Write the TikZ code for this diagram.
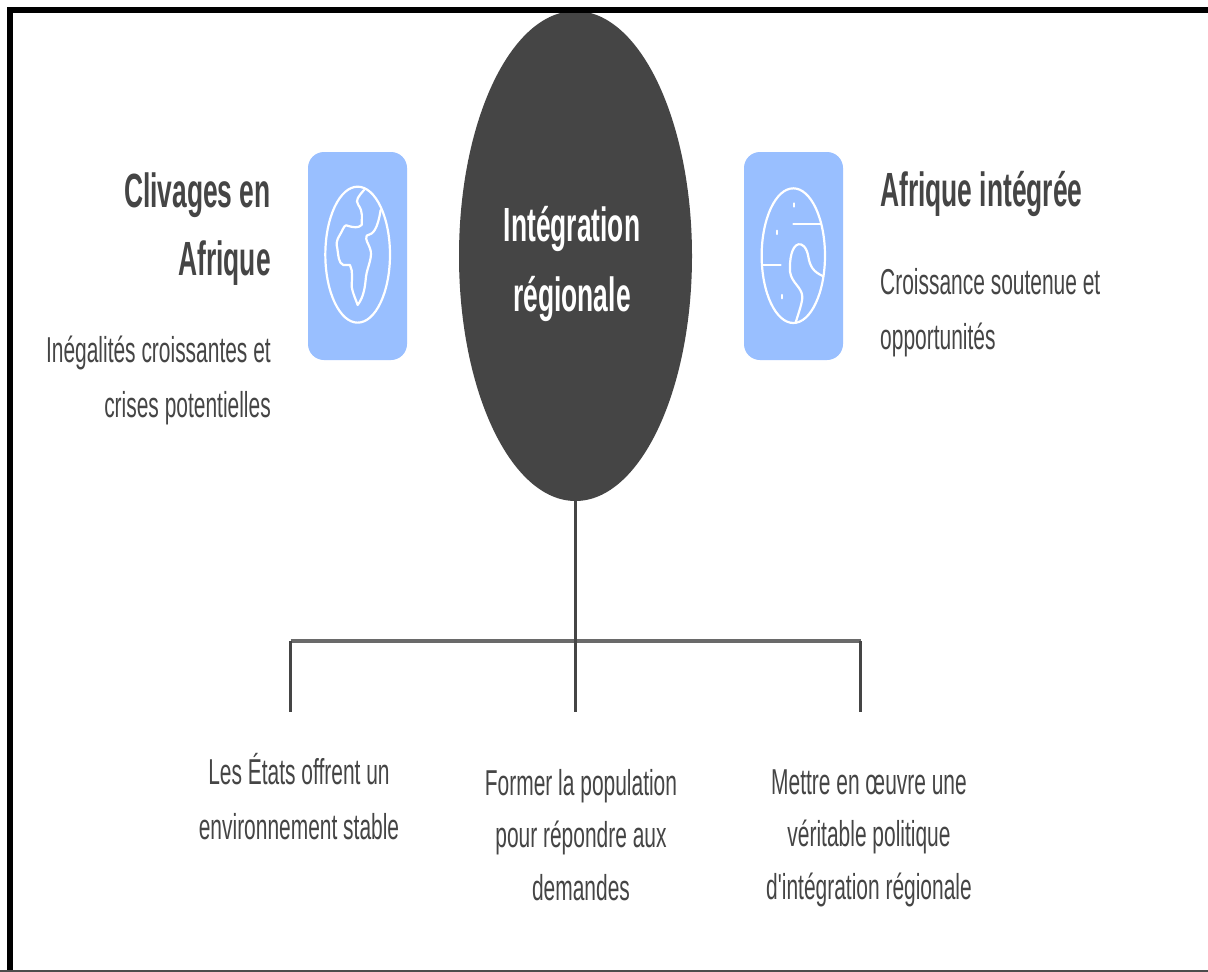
\documentclass[tikz,border=0pt]{standalone}
\usepackage{fontspec}
\usetikzlibrary{shapes.geometric}
\setmainfont{Liberation Sans}
\newfontfamily\headf[FakeStretch=0.55]{Liberation Sans}
\newfontfamily\bodyf[FakeStretch=0.582]{Liberation Sans}
\definecolor{ink}{HTML}{454545}
\definecolor{tile}{HTML}{99BFFF}
\tikzset{
  headtext/.style={inner sep=0pt,text=ink,font=\headf\bfseries\fontsize{48}{68}\selectfont},
  bodytext/.style={inner sep=0pt,text=ink,font=\bodyf\fontsize{36}{55}\selectfont},
  bodytight/.style={inner sep=0pt,text=ink,font=\bodyf\fontsize{36}{52.5}\selectfont},
  tilebox/.style={fill=tile,draw=none,rounded corners=16pt},
  globe/.style={draw=white,line width=2.2pt,line join=round,line cap=round},
  branch/.style={draw=ink,line width=2.2pt},
  bar/.style={draw=ink!80,line width=4.5pt},
}
\begin{document}
\begin{tikzpicture}[x=1pt,y=-1pt]
\useasboundingbox (0,0) rectangle (1208,972);
\fill[white] (0,0) rectangle (1208,972);
% hub
\node[ellipse,fill=ink,draw=none,minimum width=233pt,minimum height=490pt,inner sep=0pt] (hub) at (575.5,256) {};
\node[inner sep=0pt,align=center,text=white,font=\headf\bfseries\fontsize{48}{70}\selectfont] (hubt) at (572,263.5) {Intégration\\régionale};
% connectors
\coordinate (junction) at (575.5,641);
\coordinate (jl) at (290.5,641);
\coordinate (jr) at (860.5,641);
\coordinate (dl) at (290.5,712);
\coordinate (dm) at (575.5,712);
\coordinate (dr) at (860.5,712);
\draw[bar] (jl) -- (jr);
\draw[branch] (hub.south) -- (dm);
\draw[branch] (jl) -- (dl);
\draw[branch] (jr) -- (dr);
% tiles
\node[tilebox,minimum width=99pt,minimum height=208pt,inner sep=0pt] (tl) at (357.5,256) {};
\node[tilebox,minimum width=99pt,minimum height=208pt,inner sep=0pt] (tr) at (793.5,256) {};
% left globe
\begin{scope}[shift={(290,140)},x=0.3333pt,y=-0.3333pt]
\draw[globe] (203,344) ellipse [x radius=97,y radius=204];
\draw[globe] (222,150) .. controls (205,170) and (195,180) .. (205,195) .. controls (220,215) and (215,235) .. (215,255) .. controls (205,265) and (190,262) .. (175,258) .. controls (165,250) and (160,265) .. (155,275) .. controls (148,290) and (135,300) .. (142,325) .. controls (145,345) and (145,370) .. (160,375) -- (180,375) .. controls (190,395) and (185,420) .. (185,440) .. controls (188,460) and (198,480) .. (203,495) .. controls (222,470) and (225,440) .. (228,410) .. controls (232,380) and (250,350) .. (240,325) .. controls (235,310) and (225,300) .. (230,287) .. controls (250,282) and (262,270) .. (272,210);
\end{scope}
% right globe
\begin{scope}[shift={(730,140)},x=0.3333pt,y=-0.3333pt]
\draw[globe] (190,347) ellipse [x radius=95,y radius=202];
\draw[globe] (190,252) -- (272,252);
\draw[globe] (97,375) -- (152,375);
\draw[globe] (278,408) .. controls (250,395) and (240,380) .. (235,350) .. controls (230,320) and (215,310) .. (205,313) .. controls (185,318) and (178,360) .. (180,395) .. controls (185,430) and (215,440) .. (217,470) .. controls (217,490) and (205,520) .. (197,548);
\draw[globe] (193,190) -- (193,200);
\draw[globe] (140,272) -- (140,282);
\draw[globe] (156,465) -- (156,475);
\end{scope}
% texts
\node[headtext,align=right,anchor=east] (lh) at (271,229) {Clivages en\\Afrique};
\node[bodytext,align=right,anchor=east] (lb) at (271,380.5) {Inégalités croissantes et\\crises potentielles};
\node[headtext,align=left,anchor=west] (rh) at (880,194) {Afrique intégrée};
\node[bodytext,align=left,anchor=west] (rb) at (880,313) {Croissance soutenue et\\opportunités};
\node[bodytext,align=center] (t1) at (299,797) {Les États offrent un\\environnement stable};
\node[bodytight,align=center] (t2) at (581,835) {Former la population\\pour répondre aux\\demandes};
\node[bodytight,align=center] (t3) at (869,838) {Mettre en œuvre une\\véritable politique\\d'intégration régionale};
% frame
\fill[black] (7,7) rectangle (1208,13);
\fill[black] (7,7) rectangle (13,972);
\fill[black!70] (0,970) rectangle (1208,972);
\end{tikzpicture}
\end{document}
